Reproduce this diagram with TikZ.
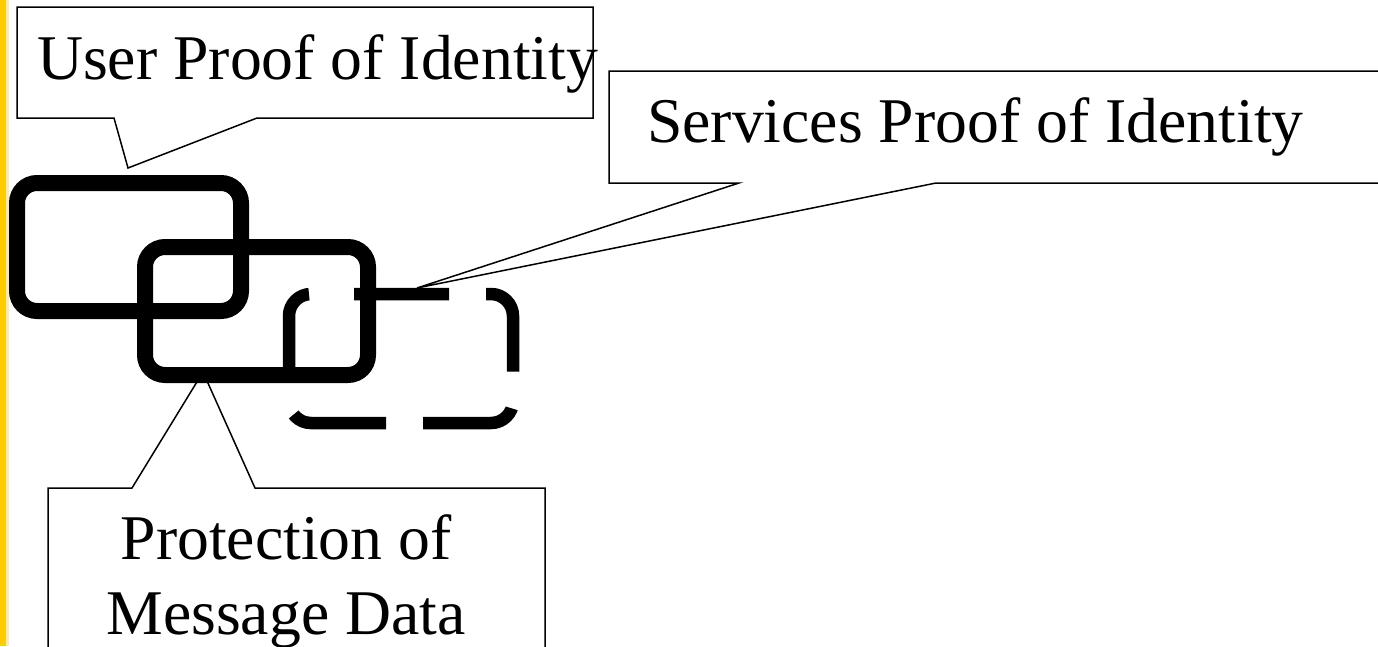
\documentclass[tikz,border=0pt]{standalone}
\usepackage{fontspec}
\setmainfont{Liberation Serif}
\definecolor{barcol}{RGB}{255,204,0}
\definecolor{barfade}{RGB}{255,236,160}
\begin{document}
\begin{tikzpicture}[x=1pt,y=-1pt,
        bubble/.style={draw=black,fill=white,line width=1.5pt,line join=miter},
        ring/.style={draw=black,line width=16pt,rounded corners=20pt},
        dashring/.style={draw=black,line width=12.5pt,rounded corners=22pt,dash pattern=on 95pt off 37pt},
        bubbletext/.style={inner sep=0pt,font=\fontsize{63.7}{75}\selectfont}]
            \clip (0,0) rectangle (1378,646);
            \fill[white] (0,0) rectangle (1378,646);
            \fill[barcol] (0,0) rectangle (6,646);
            \fill[barfade] (6,0) rectangle (9,646);
            \coordinate (tipU) at (128,168);
            \coordinate (tipS) at (417,288);
            \coordinate (tipP) at (203,372);
            \draw[bubble] (17,7) -- (593,7) -- (593,118) -- (257,118) -- (tipU) -- (114,118) -- (17,118) -- cycle;
            \draw[bubble] (609,71) -- (1400,71) -- (1400,183) -- (936,183) -- (tipS) -- (739,183) -- (609,183) -- cycle;
            \draw[bubble] (48,488) -- (132,488) -- (tipP) -- (255,488) -- (545,488) -- (545,670) -- (48,670) -- cycle;
            \node[bubbletext,anchor=base west] (user) at (37,79) {User Proof of Identity};
            \node[bubbletext,anchor=base west] (services) at (647,142) {Services Proof of Identity};
            \node[bubbletext,align=center,anchor=base] (protect) at (286,634) {Protection of\\Message Data};
            \draw[ring] (17,183) rectangle (241,311);
            \draw[ring] (145,247) rectangle (368,375);
            \draw[dashring] (354,294) -- (513,294) -- (513,423) -- (289,423) -- (289,294) -- (317,294);
\end{tikzpicture}
\end{document}
